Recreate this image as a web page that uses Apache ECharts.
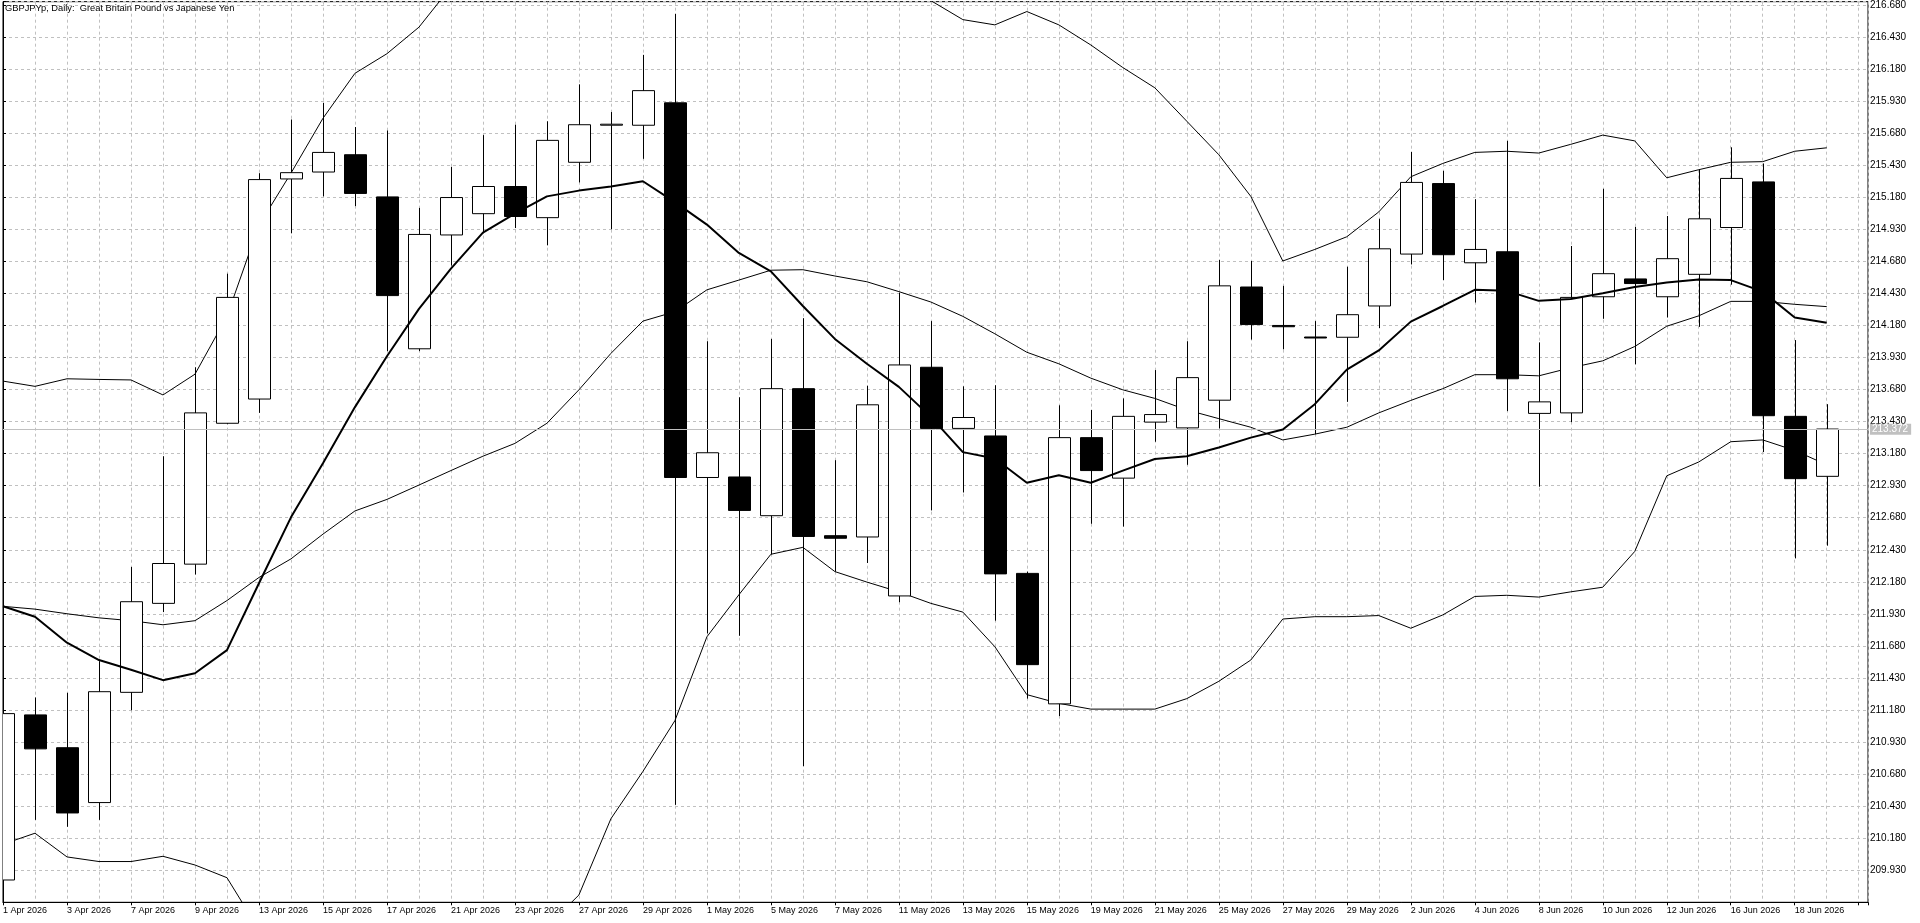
<!DOCTYPE html>
<html>
<head>
<meta charset="utf-8">
<title>GBPJPYp Daily</title>
<script src="https://cdn.jsdelivr.net/npm/echarts@6/dist/echarts.min.js"></script>
<style>
  html, body { margin: 0; padding: 0; background: #ffffff; }
  #chart { width: 1920px; height: 923px; }
</style>
</head>
<body>
<div id="chart"></div>
<script>
// ---- data ----
var chartTitle = 'GBPJPYp, Daily:  Great Britain Pound vs Japanese Yen';

var dates = [
  '1 Apr 2026','2 Apr 2026','3 Apr 2026','6 Apr 2026','7 Apr 2026','8 Apr 2026','9 Apr 2026','10 Apr 2026',
  '13 Apr 2026','14 Apr 2026','15 Apr 2026','16 Apr 2026','17 Apr 2026','20 Apr 2026','21 Apr 2026','22 Apr 2026',
  '23 Apr 2026','24 Apr 2026','27 Apr 2026','28 Apr 2026','29 Apr 2026','30 Apr 2026','1 May 2026','4 May 2026',
  '5 May 2026','6 May 2026','7 May 2026','8 May 2026','11 May 2026','12 May 2026','13 May 2026','14 May 2026',
  '15 May 2026','18 May 2026','19 May 2026','20 May 2026','21 May 2026','22 May 2026','25 May 2026','26 May 2026',
  '27 May 2026','28 May 2026','29 May 2026','1 Jun 2026','2 Jun 2026','3 Jun 2026','4 Jun 2026','5 Jun 2026',
  '8 Jun 2026','9 Jun 2026','10 Jun 2026','11 Jun 2026','12 Jun 2026','15 Jun 2026','16 Jun 2026','17 Jun 2026',
  '18 Jun 2026','19 Jun 2026'
];

var open = [
  209.854,211.142,210.886,210.458,211.318,212.012,212.318,213.417,213.606,215.323,
  215.377,215.512,215.183,213.998,214.886,215.052,215.264,215.021,215.453,215.745,
  215.742,215.917,212.994,212.998,212.696,213.687,212.540,212.530,212.070,213.854,
  213.377,213.318,212.246,211.228,213.305,212.989,213.426,213.381,213.597,214.480,
  214.180,214.090,214.088,214.332,214.737,215.287,214.669,214.755,213.494,213.498,
  214.404,214.543,214.404,214.579,214.944,215.300,213.471,213.003
];
var close = [
  211.152,210.877,210.377,211.323,212.025,212.323,213.498,214.399,215.318,215.372,
  215.530,215.210,214.413,214.890,215.178,215.264,215.030,215.624,215.746,215.750,
  216.012,212.994,213.187,212.737,213.687,212.534,212.520,213.561,213.872,213.377,
  213.462,212.242,211.534,213.305,213.048,213.471,213.485,213.773,214.489,214.187,
  214.170,214.088,214.264,214.778,215.296,214.732,214.773,213.764,213.584,214.399,
  214.584,214.507,214.701,215.012,215.327,213.476,212.985,213.372
];
var high = [
  211.200,211.278,211.314,211.561,212.296,213.160,213.854,214.584,215.368,215.787,
  215.917,215.728,215.701,215.097,215.417,215.665,215.746,215.773,216.061,215.845,
  216.291,216.611,214.057,213.620,214.075,214.237,213.129,213.710,214.435,214.214,
  213.705,213.714,212.260,213.557,213.521,213.611,213.832,214.057,214.692,214.683,
  214.489,214.214,214.638,215.012,215.534,215.386,215.165,215.620,214.048,214.800,
  215.246,214.949,215.034,215.399,215.570,215.444,214.066,213.566
];
var low = [
  209.800,210.323,210.269,210.323,211.178,211.944,212.237,213.410,213.498,214.899,
  215.187,215.111,213.980,213.980,214.647,214.899,214.940,214.805,215.296,214.931,
  215.480,210.440,211.778,211.759,212.395,210.742,212.260,212.327,212.021,212.737,
  212.877,211.877,211.269,211.133,212.633,212.611,213.273,213.093,213.377,214.070,
  213.994,213.332,213.584,214.160,214.656,214.534,214.359,213.512,212.922,213.426,
  214.232,213.877,214.242,214.169,214.498,213.192,212.363,212.462
];

// thick moving average
var maLine = [
  211.989,211.908,211.705,211.570,211.494,211.413,211.467,211.647,212.169,212.683,
  213.106,213.543,213.940,214.309,214.624,214.904,215.052,215.187,215.232,215.264,
  215.305,215.142,214.967,214.746,214.602,214.332,214.075,213.881,213.701,213.467,
  213.192,213.142,212.953,213.012,212.953,213.048,213.138,213.160,213.228,213.305,
  213.368,213.566,213.836,213.985,214.210,214.332,214.458,214.450,214.372,214.386,
  214.431,214.480,214.516,214.539,214.534,214.444,214.242,214.201
];
// Bollinger bands (thin lines)
var bbUpper = [
  213.746,213.705,213.764,213.759,213.755,213.638,213.800,214.251,214.962,215.368,
  215.796,216.147,216.300,216.507,216.820,217.010,217.160,217.350,217.619,217.592,
  217.727,217.477,217.165,216.989,216.827,216.781,216.872,216.864,216.786,216.714,
  216.566,216.525,216.629,216.525,216.368,216.192,216.034,215.773,215.512,215.187,
  214.683,214.773,214.872,215.066,215.340,215.444,215.530,215.539,215.525,215.593,
  215.665,215.620,215.332,215.395,215.453,215.458,215.539,215.566
];
var bbMiddle = [
  211.989,211.967,211.931,211.899,211.877,211.845,211.877,212.034,212.214,212.359,
  212.552,212.733,212.823,212.935,213.048,213.160,213.260,213.417,213.678,213.962,
  214.214,214.287,214.458,214.534,214.611,214.615,214.566,214.521,214.444,214.363,
  214.251,214.115,213.971,213.881,213.769,213.678,213.611,213.521,213.453,213.386,
  213.287,213.332,213.386,213.498,213.595,213.687,213.796,213.796,213.787,213.850,
  213.904,214.016,214.174,214.255,214.368,214.368,214.345,214.327
];
var bbLower = [
  210.133,210.219,210.034,209.998,209.998,210.039,209.971,209.872,209.466,209.350,
  209.308,209.319,209.346,209.363,209.280,209.310,209.360,209.490,209.737,210.332,
  210.701,211.097,211.751,212.079,212.395,212.449,212.260,212.178,212.102,212.012,
  211.944,211.674,211.300,211.232,211.187,211.187,211.187,211.269,211.404,211.570,
  211.890,211.908,211.908,211.917,211.818,211.922,212.066,212.075,212.061,212.102,
  212.138,212.417,213.007,213.115,213.273,213.287,213.205,213.093
];

var currentPrice = 213.372;
var yTickStart = 209.930;
var yTickStep = 0.25;

// ---- chart ----
var FONT = 'Liberation Sans';
var chart = echarts.init(document.getElementById('chart'), null, { renderer: 'canvas' });

function pts(arr) { return arr.map(function (v, i) { return [i, v]; }); }
var candleData = dates.map(function (d, i) { return [i, open[i], close[i], low[i], high[i]]; });

function thinLine(name, arr) {
  return {
    name: name, type: 'line', data: pts(arr), symbol: 'none', silent: true, z: 3,
    lineStyle: { color: '#000000', width: 1 }, animation: false, clip: true
  };
}

var option = {
  animation: false,
  backgroundColor: '#ffffff',
  textStyle: { fontFamily: FONT },
  title: {
    text: chartTitle, left: 5, top: 4, padding: 0,
    textStyle: { fontFamily: FONT, fontSize: 9.3, fontWeight: 'normal', color: '#000000' }
  },
  grid: {
    left: 2.5, right: 52, top: 1.5, bottom: 20.7,
    show: true, borderColor: '#000000', borderWidth: 1, backgroundColor: 'transparent'
  },
  xAxis: [
    {
      type: 'value', min: 0, max: 58.29, interval: 2, position: 'bottom',
      axisLine: { show: true, lineStyle: { color: '#000000', width: 1 } },
      axisTick: { show: true, length: 3, lineStyle: { color: '#000000' } },
      axisLabel: {
        show: true, align: 'left', margin: 4, fontSize: 9, color: '#000000', fontFamily: FONT,
        showMinLabel: true, showMaxLabel: true,
        formatter: function (v) { var i = Math.round(v); return (Math.abs(v - i) < 1e-6 && dates[i]) ? dates[i] : ''; }
      },
      splitLine: { show: false }
    },
    {
      type: 'value', min: 0, max: 58.29, interval: 1, position: 'top',
      axisLine: { show: false }, axisTick: { show: false }, axisLabel: { show: false },
      splitLine: { show: true, lineStyle: { color: '#c0c0c0', width: 1, type: [3, 3] } }
    }
  ],
  yAxis: {
    type: 'value', position: 'right', min: 209.68, max: 216.706, interval: yTickStep, scale: true,
    axisLine: { show: true, lineStyle: { color: '#000000', width: 1 } },
    axisTick: { show: true, length: 3, lineStyle: { color: '#000000' } },
    axisLabel: {
      show: true, margin: 2, fontSize: 10, color: '#000000', fontFamily: FONT, align: 'left',
      formatter: function (v) {
        var k = (v - yTickStart) / yTickStep;
        if (v < yTickStart - 1e-6) return '';
        return Math.abs(k - Math.round(k)) < 1e-4 ? v.toFixed(3) : '';
      }
    },
    splitLine: { show: true, lineStyle: { color: '#c0c0c0', width: 1, type: [3, 3] } }
  },
  series: [
    {
      name: 'price line', type: 'line', data: [], z: 1, clip: false, silent: true,
      markLine: {
        silent: true, symbol: ['none', 'none'], animation: false,
        lineStyle: { color: '#c0c0c0', type: 'solid', width: 1 },
        label: {
          show: true, position: 'end', distance: 2,
          formatter: function () { return currentPrice.toFixed(3); },
          backgroundColor: '#c0c0c0', color: '#ffffff', fontSize: 10, fontFamily: FONT,
          padding: [1, 3, 0, 2]
        },
        data: [{ yAxis: currentPrice }]
      }
    },
    thinLine('BB upper', bbUpper),
    thinLine('BB middle', bbMiddle),
    thinLine('BB lower', bbLower),
    {
      name: 'candles', type: 'custom', data: candleData, z: 4, clip: true, silent: true,
      encode: { x: 0, y: [1, 2, 3, 4] },
      renderItem: function (params, api) {
        var x = api.value(0), o = api.value(1), c = api.value(2), l = api.value(3), h = api.value(4);
        var pO = api.coord([x, o]), pC = api.coord([x, c]), pL = api.coord([x, l]), pH = api.coord([x, h]);
        var X = Math.round(pO[0]);
        var top = Math.min(pO[1], pC[1]), bot = Math.max(pO[1], pC[1]);
        var up = c >= o;
        var bodyH = Math.max(bot - top, 1);
        return {
          type: 'group',
          children: [
            { type: 'line', shape: { x1: X + 0.5, y1: pH[1], x2: X + 0.5, y2: pL[1] },
              style: { stroke: '#000000', lineWidth: 1 } },
            { type: 'rect', shape: { x: X - 10.5, y: top, width: 22, height: bodyH },
              style: { fill: up ? '#ffffff' : '#000000', stroke: '#000000', lineWidth: 1 } }
          ]
        };
      }
    },
    {
      name: 'MA', type: 'line', data: pts(maLine), symbol: 'none', silent: true, z: 5, clip: true,
      lineStyle: { color: '#000000', width: 2 }
    }
  ]
};
chart.setOption(option);
</script>
</body>
</html>
